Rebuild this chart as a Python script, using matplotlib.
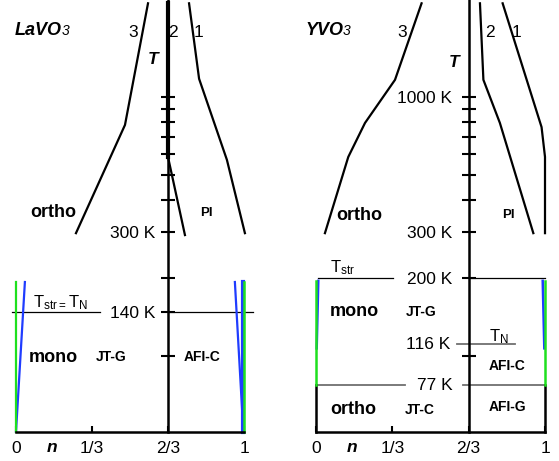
import numpy as np
import matplotlib
matplotlib.use("Agg")
import matplotlib.pyplot as plt
from matplotlib.ticker import NullLocator

plt.rcParams['font.family'] = ['Liberation Sans', 'DejaVu Sans']

GREEN = '#1ee01e'
BLUE = '#1f3cff'
GRAY = '#707070'

# temperature window of the drawing (log scale)
T_TOP, T_BOT = 2369, 39.3
T_BASE = 51          # the n axis sits here
T_CURVE_TOP = 2300

n_ticks = [0, 1/3, 2/3, 1]
n_labels = ['0', '1/3', '2/3', '1']
T_ticks = [100, 200, 300, 400, 500, 600, 700, 800, 900, 1000]

# ---- LaVO3 ----
la_n1 = [0.759, 0.803, 0.925, 1.004]
la_T1 = [T_CURVE_TOP, 1176, 572, 298]
la_n2 = [2/3, 2/3, 0.741]
la_T2 = [T_CURVE_TOP, 587, 293]
la_n3 = [0.579, 0.478, 0.263]
la_T3 = [T_CURVE_TOP, 780, 298]
la_T_trans = 148      # drawn position of the 140 K line
la_T_top_col = 193    # top of the coloured lines
la_blue_left_n = [0, 0.039]
la_blue_right_n = [0.995, 0.96]

# ---- YVO3 ----
y_n1 = [0.815, 0.985, 1.0, 1.0]
y_T1 = [T_CURVE_TOP, 765, 587, 298]
y_n2 = [0.716, 0.731, 0.803, 0.949]
y_T2 = [T_CURVE_TOP, 1165, 794, 298]
y_n3 = [0.461, 0.345, 0.214, 0.141, 0.039]
y_T3 = [T_CURVE_TOP, 1165, 794, 587, 298]
y_T_str = 200
y_T_N = 111           # drawn position of the 116 K line
y_T_low = 77
y_T_top_col = 195
y_blue_T = [195, 107]
y_blue_left_n = [0.01, 0.003]
y_blue_right_n = [0.99, 0.997]

fig = plt.figure(figsize=(5.59, 4.61), dpi=100)
ax1 = fig.add_axes([0, 0, 279/559, 1])
ax2 = fig.add_axes([280/559, 0, 279/559, 1])


def setup(ax, xlim, ylabels, ypad):
    ax.set_yscale('log')
    ax.set_ylim(T_BOT, T_TOP)
    ax.set_xlim(*xlim)
    ax.patch.set_visible(False)
    for s in ['top', 'right']:
        ax.spines[s].set_visible(False)
    ax.spines['left'].set_position(('data', 2/3))
    ax.spines['left'].set_bounds(T_BASE, T_TOP)
    ax.spines['bottom'].set_position(('data', T_BASE))
    ax.spines['bottom'].set_bounds(0, 1)
    for s in ['left', 'bottom']:
        ax.spines[s].set_linewidth(1.8)
    ax.set_yticks(list(ylabels.keys()), list(ylabels.values()))
    ax.yaxis.set_minor_locator(NullLocator())
    ax.tick_params(axis='y', direction='inout', length=10, width=1.5,
                   labelsize=12.5, pad=ypad)
    ax.set_xticks(n_ticks, n_labels)
    ax.tick_params(axis='x', direction='in', length=4, width=1.5,
                   labelsize=12.5, pad=7)
    ax.text(0.157, 44.5, 'n', fontsize=12.5, fontweight='bold',
            style='italic', ha='center', va='center')


def formula(ax, x, name):
    t = ax.text(x, 1814, name, fontsize=13, fontweight='bold',
                style='italic', ha='left', va='center')
    ax.annotate('3', xy=(1, 0.05), xycoords=t, fontsize=10, style='italic',
                ha='left', va='bottom')


# ------------------ LaVO3 panel ------------------
la_ticks = {t: '' for t in T_ticks}
la_ticks[300] = '300 K'
la_ticks[la_T_trans] = '140 K'
setup(ax1, (-16/228, 263/228), la_ticks, 4.4)

ax1.plot(la_n1, la_T1, color='k', lw=1.6)
ax1.plot(la_n2[:2], la_T2[:2], color='k', lw=3.0)
ax1.plot(la_n2[1:], la_T2[1:], color='k', lw=1.6)
ax1.plot(la_n3, la_T3, color='k', lw=1.6)

ax1.plot([-0.018, 0.368], [la_T_trans] * 2, color='k', lw=0.9)
ax1.plot([2/3, 1.04], [la_T_trans] * 2, color='k', lw=0.9)

ax1.plot(la_blue_left_n, [T_BASE, la_T_top_col], color=BLUE, lw=1.6)
ax1.plot([0, 0], [T_BASE, la_T_top_col], color=GREEN, lw=1.6)
ax1.plot(la_blue_right_n, [55, la_T_top_col], color=BLUE, lw=1.6)
ax1.plot([0.997, 0.997], [T_BASE, la_T_top_col], color=BLUE, lw=3.0)
ax1.plot([1, 1], [T_BASE, la_T_top_col], color=GREEN, lw=1.8)

formula(ax1, -0.004, 'LaVO')
for lab, x in [('3', 0.513), ('2', 0.689), ('1', 0.800)]:
    ax1.text(x, 1782, lab, fontsize=12.5, ha='center', va='center')
ax1.text(0.601, 1390, 'T', fontsize=12.5, fontweight='bold', style='italic',
         ha='center', va='center')
ax1.text(0.064, 357, 'ortho', fontsize=13, fontweight='bold', ha='left', va='center')
ax1.text(0.833, 357, 'PI', fontsize=9.5, fontweight='bold', ha='center', va='center')
ax1.text(0.0746, 160, r'$\mathregular{T_{str{=}}T_N}$', fontsize=12, ha='left',
         va='center')
ax1.text(0.057, 99, 'mono', fontsize=13, fontweight='bold', ha='left', va='center')
ax1.text(0.351, 99, 'JT-G', fontsize=10, fontweight='bold', ha='left', va='center')
ax1.text(0.737, 99, 'AFI-C', fontsize=10, fontweight='bold', ha='left', va='center')

# ------------------ YVO3 panel ------------------
y_ticks = {t: '' for t in T_ticks}
y_ticks[300] = '300 K'
y_ticks[200] = '200 K'
y_ticks[1000] = '1000 K'
setup(ax2, (-36/229, 243/229), y_ticks, 7.0)

ax2.plot(y_n1, y_T1, color='k', lw=1.6)
ax2.plot(y_n2, y_T2, color='k', lw=1.6)
ax2.plot(y_n3, y_T3, color='k', lw=1.6)

ax2.plot([0.0087, 0.336], [y_T_str] * 2, color='k', lw=0.9)
ax2.plot([2/3, 1.0], [y_T_str] * 2, color='k', lw=0.9)
ax2.plot([0.616, 0.869], [y_T_N] * 2, color=GRAY, lw=1.3)
ax2.plot([0, 0.389], [y_T_low] * 2, color=GRAY, lw=1.3)
ax2.plot([0.642, 1.0], [y_T_low] * 2, color=GRAY, lw=1.3)
ax2.plot([0, 0], [T_BASE, y_T_low], color='k', lw=1.8)
ax2.plot([1, 1], [T_BASE, y_T_low], color='k', lw=1.8)

ax2.plot(y_blue_left_n, y_blue_T, color=BLUE, lw=1.8)
ax2.plot([0, 0], [y_T_low, y_T_top_col], color=GREEN, lw=1.8)
ax2.plot(y_blue_right_n, y_blue_T, color=BLUE, lw=1.8)
ax2.plot([1, 1], [y_T_low, y_T_top_col], color=GREEN, lw=1.8)

formula(ax2, -0.048, 'YVO')
for lab, x in [('3', 0.376), ('2', 0.760), ('1', 0.876)]:
    ax2.text(x, 1782, lab, fontsize=12.5, ha='center', va='center')
ax2.text(0.601, 1353, 'T', fontsize=12.5, fontweight='bold', style='italic',
         ha='center', va='center')
ax2.text(0.087, 350, 'ortho', fontsize=13, fontweight='bold', ha='left', va='center')
ax2.text(0.842, 350, 'PI', fontsize=9.5, fontweight='bold', ha='center', va='center')
ax2.text(0.061, 219, r'$\mathregular{T_{str}}$', fontsize=12, ha='left', va='center')
ax2.text(0.061, 148, 'mono', fontsize=13, fontweight='bold', ha='left', va='center')
ax2.text(0.393, 148, 'JT-G', fontsize=10, fontweight='bold', ha='left', va='center')
ax2.text(0.585, y_T_N, '116 K', fontsize=12.5, ha='right', va='center')
ax2.text(0.757, 119, r'$\mathregular{T_N}$', fontsize=12, ha='left', va='center')
ax2.text(0.752, 91.5, 'AFI-C', fontsize=10, fontweight='bold', ha='left', va='center')
ax2.text(0.595, y_T_low, '77 K', fontsize=12.5, ha='right', va='center')
ax2.text(0.064, 61.9, 'ortho', fontsize=13, fontweight='bold', ha='left', va='center')
ax2.text(0.386, 61.9, 'JT-C', fontsize=10, fontweight='bold', ha='left', va='center')
ax2.text(0.752, 63.5, 'AFI-G', fontsize=10, fontweight='bold', ha='left', va='center')

fig.savefig('out.png', dpi=100)
